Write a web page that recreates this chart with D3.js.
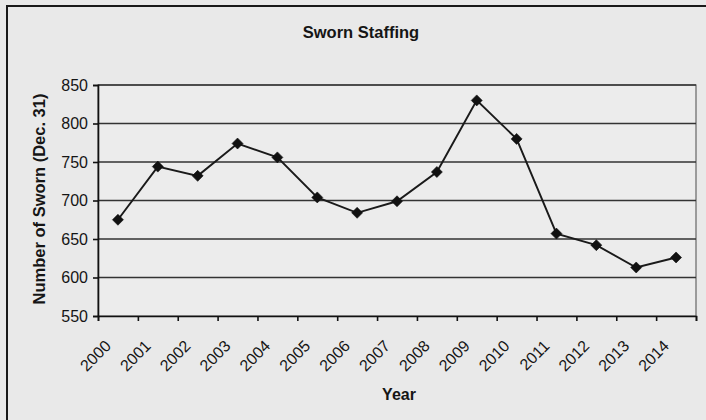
<!DOCTYPE html>
<html>
<head>
<meta charset="utf-8">
<script src="https://cdn.jsdelivr.net/npm/d3@7/dist/d3.min.js"></script>
<style>
  html, body { margin: 0; padding: 0; background: #e9e9e9; }
  svg { display: block; }
  text { font-family: "Liberation Sans", Arial, Helvetica, sans-serif; fill: #151515; }
</style>
</head>
<body>
<svg id="chart" width="706" height="420"></svg>
<script>
const years = ["2000","2001","2002","2003","2004","2005","2006","2007","2008","2009","2010","2011","2012","2013","2014"];
const sworn = [675, 744, 732, 774, 756, 704, 684, 699, 737, 830, 780, 657, 642, 613, 626];
const yTicks = [550, 600, 650, 700, 750, 800, 850];
const titleText = "Sworn Staffing";
const xTitle = "Year";
const yTitle = "Number of Sworn (Dec. 31)";

const svg = d3.select("#chart");
const W = 706, H = 420;
const m = { left: 98, right: 696, top: 85, bottom: 316 };

// background + outer frame
svg.append("rect").attr("width", W).attr("height", H).attr("fill", "#e9e9e9");
svg.append("rect").attr("x", 7).attr("y", 6).attr("width", 730).attr("height", 440)
  .attr("fill", "none").attr("stroke", "#1a1a1a").attr("stroke-width", 2);

const x = d3.scaleBand().domain(years).range([m.left, m.right]).padding(0);
const xb = d3.scaleLinear().domain([0, years.length]).range([m.left, m.right]);
const y = d3.scaleLinear().domain([550, 850]).range([m.bottom, m.top]);

// plot area
svg.append("rect").attr("x", m.left).attr("y", m.top)
  .attr("width", m.right - m.left).attr("height", m.bottom - m.top)
  .attr("fill", "#ececec").attr("stroke", "#666").attr("stroke-width", 1.2);

// gridlines
svg.append("g").selectAll("line").data(yTicks.filter(v => v > 550)).join("line")
  .attr("x1", m.left).attr("x2", m.right)
  .attr("y1", d => y(d)).attr("y2", d => y(d))
  .attr("stroke", "#333").attr("stroke-width", 1.3);

// y axis
const yAxis = svg.append("g").attr("transform", `translate(${m.left},0)`)
  .call(d3.axisLeft(y).tickValues(yTicks).tickSize(5).tickPadding(5));
yAxis.selectAll("path, line").attr("stroke", "#111").attr("stroke-width", 1.6);
yAxis.selectAll("text").style("font-size", "16px").attr("fill", "#151515")
  .style("font-family", "'Liberation Sans', Arial, sans-serif");

// x axis (ticks at category boundaries)
const xAxis = svg.append("g").attr("transform", `translate(0,${m.bottom})`)
  .call(d3.axisBottom(xb).tickValues(d3.range(years.length + 1)).tickSize(5).tickFormat(""));
xAxis.selectAll("path, line").attr("stroke", "#111").attr("stroke-width", 1.6);

// x labels rotated
svg.append("g").selectAll("text").data(years).join("text")
  .attr("transform", d => `translate(${x(d) + x.bandwidth() / 2 - 6},347) rotate(-45)`)
  .attr("text-anchor", "end")
  .style("font-size", "16px")
  .text(d => d);

// line
const line = d3.line().x((d, i) => x(years[i]) + x.bandwidth() / 2).y(d => y(d));
svg.append("path").datum(sworn).attr("d", line)
  .attr("fill", "none").attr("stroke", "#1a1a1a").attr("stroke-width", 1.9);

// diamond markers
svg.append("g").selectAll("path").data(sworn).join("path")
  .attr("transform", (d, i) => `translate(${x(years[i]) + x.bandwidth() / 2},${y(d)})`)
  .attr("d", "M0,-5.5L5.5,0L0,5.5L-5.5,0Z")
  .attr("fill", "#111").attr("stroke", "#111").attr("stroke-width", 0.6);

// titles
svg.append("text").attr("x", 361).attr("y", 38).attr("text-anchor", "middle")
  .style("font-size", "16.5px").style("font-weight", "bold").text(titleText);
svg.append("text").attr("x", 399).attr("y", 400).attr("text-anchor", "middle")
  .style("font-size", "16px").style("font-weight", "bold").text(xTitle);
svg.append("text").attr("transform", "translate(45,199) rotate(-90)").attr("text-anchor", "middle")
  .style("font-size", "16.5px").style("font-weight", "bold").text(yTitle);
</script>
</body>
</html>
